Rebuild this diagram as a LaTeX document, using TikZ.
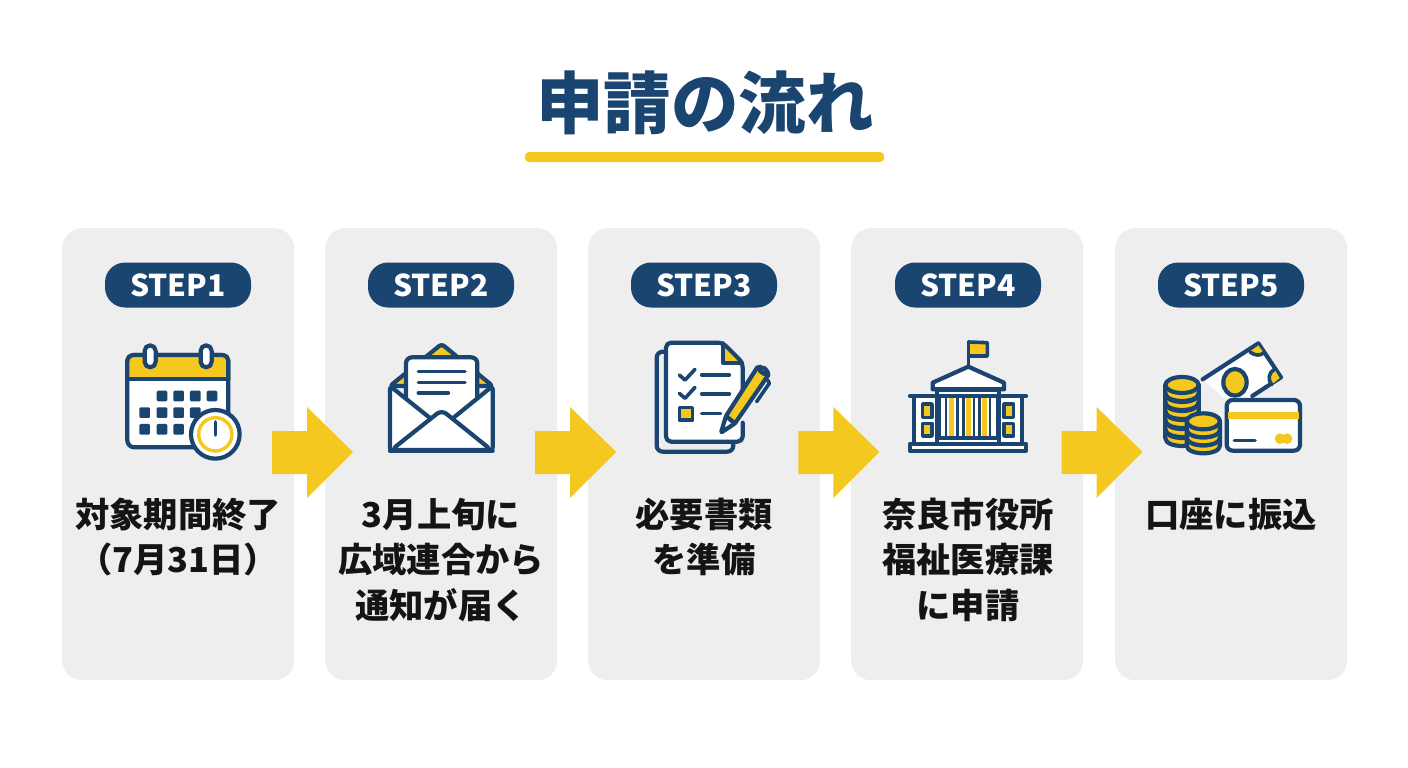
\documentclass[tikz,border=0pt]{standalone}
\usepackage{fontspec}
\setmainfont{Noto Sans CJK JP}
\definecolor{navy}{HTML}{1A4570}
\definecolor{gold}{HTML}{F5C81F}
\definecolor{cardgray}{HTML}{EEEEEE}
\definecolor{ink}{HTML}{141414}
\tikzset{
  cardbox/.style={fill=cardgray,rounded corners=20pt,minimum width=232pt,minimum height=452pt,inner sep=0pt,anchor=north west},
  pillbox/.style={fill=navy,text=white,rounded corners=20pt,minimum width=146pt,minimum height=45pt,inner sep=0pt,font=\fontsize{30}{32}\selectfont\bfseries},
  bodytext/.style={text=ink,align=center,anchor=north,inner sep=0pt,font=\fontsize{34.3}{45.6}\selectfont\bfseries},
  titletext/.style={text=navy,inner sep=0pt,font=\fontsize{67.5}{70}\selectfont\bfseries},
  stepflow/.style={fill=gold,draw=none},
  ic/.style={draw=navy,line width=4.2pt,line join=round,line cap=round},
  thin/.style={draw=navy,line width=3.6pt,line join=round,line cap=round},
}
\newcommand{\blockarrow}[1]{\fill[stepflow,shift={(#1,0)}] (272,431) -- (307,431) -- (307,407) -- (353,452) -- (307,498) -- (307,474) -- (272,474) -- cycle;}
\newcommand{\coinlayer}[4]{% cx, y, rx, ry
  \path[ic,fill=gold] (#1-#3,#2) -- (#1-#3,#2+24) .. controls (#1-#3,#2+24+1.33*#4) and (#1+#3,#2+24+1.33*#4) .. (#1+#3,#2+24) -- (#1+#3,#2) -- cycle;
  \path[ic,fill=gold] (#1,#2) ellipse [x radius=#3,y radius=#4];}
\begin{document}
\begin{tikzpicture}[x=1pt,y=-1pt]
\useasboundingbox (0,0) rectangle (1408,768);
\fill[white] (0,0) rectangle (1408,768);
% title
\node[titletext] (title) at (705,103) {申請の流れ};
\fill[gold,rounded corners=4pt] (525,152) rectangle (884,162);
% cards
\node[cardbox] (card1) at (62,228) {};
\node[cardbox] (card2) at (325,228) {};
\node[cardbox] (card3) at (588,228) {};
\node[cardbox] (card4) at (851,228) {};
\node[cardbox] (card5) at (1115,228) {};
% pills
\node[pillbox] (step1) at (178,285) {STEP1};
\node[pillbox] (step2) at (441,285) {STEP2};
\node[pillbox] (step3) at (704,285) {STEP3};
\node[pillbox] (step4) at (968,285) {STEP4};
\node[pillbox] (step5) at (1231,285) {STEP5};
% arrows
\blockarrow{0}\blockarrow{263.2}\blockarrow{526.4}\blockarrow{789.6}
% text
\node[bodytext] (text1) at (178,497.5) {対象期間終了\\（7月31日）};
\node[bodytext] (text2) at (441,497.5) {3月上旬に\\広域連合から\\通知が届く};
\node[bodytext] (text3) at (704,497.5) {必要書類\\を準備};
\node[bodytext] (text4) at (968,497.5) {奈良市役所\\福祉医療課\\に申請};
\node[bodytext] (text5) at (1231,497.5) {口座に振込};
% calendar
\begin{scope}[shift={(100,330)},x=0.3333pt,y=-0.3333pt]
  \path[ic,fill=white,rounded corners=7pt] (82,75) rectangle (385,352);
  \fill[gold,rounded corners=6pt] (86,79) rectangle (381,146);
  \path[ic] (82,148) -- (385,148);
  \path[ic,rounded corners=5.5pt] (82,148) -- (82,75) -- (385,75) -- (385,148);
  \path[ic,fill=white,rounded corners=5.5pt] (134,46) rectangle (167,112);
  \path[ic,fill=white,rounded corners=5.5pt] (302,46) rectangle (335,112);
  \foreach \p/\q in {170/182,220/182,270/182,320/182,118/232,170/232,220/232,270/232,118/282,170/282,220/282}
    \fill[navy,rounded corners=1.2pt] (\p,\q) rectangle (\p+32,\q+32);
  \path[ic,fill=white] (346,313) circle [radius=73];
  \draw[gold,line width=3.4pt] (346,313) circle [radius=50];
  \path[thin] (346,276) -- (346,315);
\end{scope}
% envelope
\begin{scope}[shift={(370,330)},x=0.3333pt,y=-0.3333pt]
  \path[ic,fill=gold,rounded corners=3pt] (60,168) -- (215,42) -- (368,168) -- cycle;
  \path[ic,fill=white,rounded corners=6pt] (108,82) rectangle (322,300);
  \path[ic,fill=white,rounded corners=3pt] (60,168) -- (215,292) -- (368,168) -- (368,362) -- (60,362) -- cycle;
  \path[ic,fill=white,rounded corners=6pt] (64,360) -- (215,240) -- (364,360) -- cycle;
  \path[ic] (60,362) -- (368,362);
  \path[thin] (145,125) -- (285,125);
  \path[thin] (145,157) -- (285,157);
  \path[thin] (145,189) -- (235,189);
\end{scope}
% document
\begin{scope}[shift={(640,330)},x=0.3333pt,y=-0.3333pt]
  \path[ic,rounded corners=6pt] (78,65) -- (50,65) -- (50,365) -- (280,365) -- (280,338);
  \path[fill=white,rounded corners=5pt] (78,38) -- (248,38) -- (308,98) -- (308,335) -- (78,335) -- cycle;
  \fill[gold] (250,45) -- (250,98) -- (304,98) -- cycle;
  \path[ic,rounded corners=5pt] (308,205) -- (308,98) -- (248,38) -- (78,38) -- (78,335) -- (308,335) -- (308,278);
  \path[ic] (248,40) -- (248,98) -- (306,98);
  \path[thin] (118,135) -- (135,150) -- (165,118);
  \path[thin] (118,190) -- (135,205) -- (165,172);
  \path[thin] (185,135) -- (268,135);
  \path[thin] (185,192) -- (268,192);
  \path[thin] (185,250) -- (242,250);
  \path[thin,fill=gold] (118,232) rectangle (158,270);
  % pen
  \path[ic,fill=white,rounded corners=1pt] (243,308) -- (258,258) -- (285,280) -- cycle;
  \path[ic,fill=gold] (258,258) -- (352,112) -- (385,135) -- (285,280) -- cycle;
  \path[ic,fill=white!90!gold,rounded corners=4pt] (352,118) -- (362,108) -- (385,122) -- (382,138) -- cycle;
  \path[thin] (383,150) -- (388,160) -- (350,215);
\end{scope}
% building
\begin{scope}[shift={(900,330)},x=0.3333pt,y=-0.3333pt]
  \fill[gold] (205,38) -- (262,38) -- (262,78) -- (205,78) -- cycle;
  \path[thin] (205,35) -- (205,105);
  \path[thin] (205,36) -- (262,38) -- (262,78) -- (205,78);
  \path[ic,fill=white] (42,198) rectangle (112,342);
  \path[ic,fill=white] (298,198) rectangle (365,342);
  \path[ic,fill=white] (116,198) rectangle (294,326);
  \foreach \c in {155,205,253} \fill[gold] (\c-7,202) rectangle (\c+7,322);
  \foreach \c in {138,172,190,222,238,270} \path[draw=navy,line width=2.8pt] (\c,200) -- (\c,324);
  \path[ic,fill=white] (112,180) rectangle (298,198);
  \path[ic,fill=white] (205,110) -- (312,158) -- (312,178) -- (98,178) -- (98,158) -- cycle;
  \path[ic] (30,198) -- (378,198);
  \path[ic,fill=white] (112,324) rectangle (298,342);
  \path[ic,fill=white] (30,342) rectangle (378,362);
  \path[thin,fill=gold] (68,222) rectangle (96,262);
  \path[thin,fill=gold] (68,280) rectangle (96,318);
  \path[thin,fill=gold] (312,222) rectangle (340,262);
  \path[thin,fill=gold] (312,280) rectangle (340,318);
\end{scope}
% money
\begin{scope}[shift={(1155,330)},x=0.3333pt,y=-0.3333pt]
  \fill[white] (143,148) -- (310,40) -- (378,142) -- (250,240) -- cycle;
  \path[ic] (143,148) -- (310,40) -- (378,142) -- (292,198);
  \fill[gold] (285,66) .. controls (300,78) and (318,78) .. (326,68) -- (310,46) -- cycle;
  \path[thin] (285,66) .. controls (300,78) and (318,78) .. (326,68);
  \fill[gold] (358,118) .. controls (340,128) and (338,150) .. (350,164) -- (374,144) -- cycle;
  \path[thin] (358,118) .. controls (340,128) and (338,150) .. (350,164);
  \path[ic,fill=gold] (240,157) ellipse [x radius=35,y radius=40];
  \foreach \y in {300,273,246,219,192,165} {\coinlayer{81}{\y}{50}{24}}
  \foreach \y in {322,298,274} {\coinlayer{145}{\y}{50}{24}}
  \path[ic,fill=white,rounded corners=6pt] (215,210) rectangle (435,362);
  \fill[gold] (219,245) rectangle (431,268);
  \path[thin] (238,332) -- (300,332);
  \fill[gold] (375,326) circle [radius=16];
  \fill[gold] (396,326) circle [radius=16];
\end{scope}
\end{tikzpicture}
\end{document}
